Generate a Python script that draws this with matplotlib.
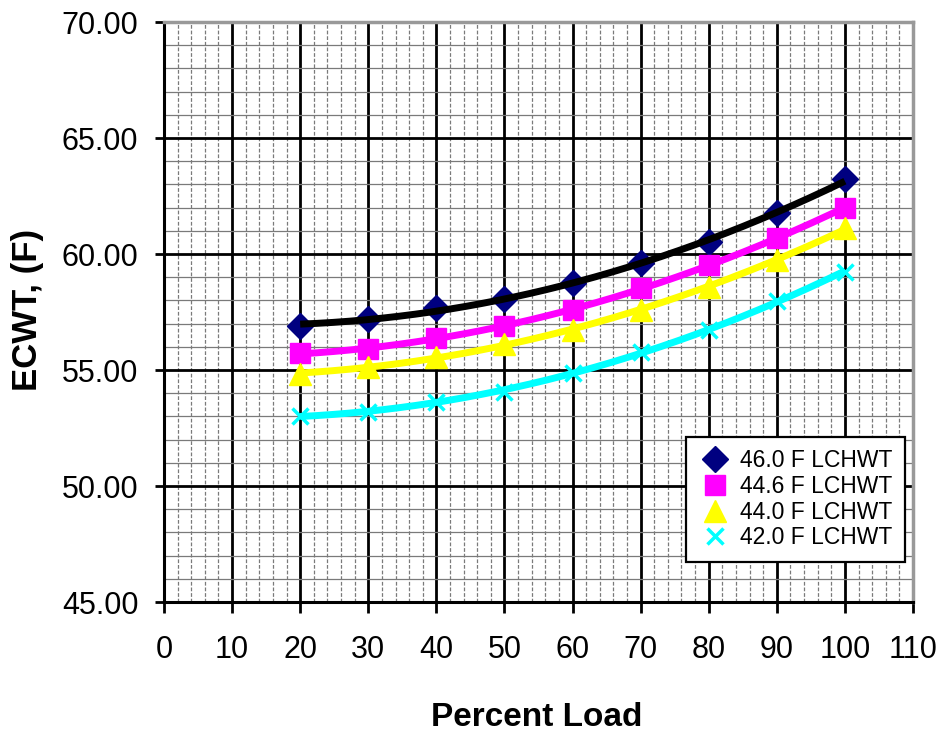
import numpy as np
import matplotlib
matplotlib.use("Agg")
import matplotlib.pyplot as plt
from matplotlib.ticker import MultipleLocator, FormatStrFormatter

plt.rcParams['font.family'] = ['Liberation Sans', 'DejaVu Sans']

load = [20, 30, 40, 50, 60, 70, 80, 90, 100]
ecwt_460 = [56.90, 57.20, 57.66, 58.05, 58.74, 59.60, 60.53, 61.75, 63.22]
ecwt_446 = [55.72, 55.90, 56.38, 56.90, 57.59, 58.52, 59.53, 60.67, 62.00]
ecwt_440 = [54.83, 55.12, 55.58, 56.12, 56.72, 57.59, 58.59, 59.74, 61.10]
ecwt_420 = [53.02, 53.20, 53.63, 54.07, 54.86, 55.79, 56.72, 57.97, 59.24]
labels = ["46.0 F LCHWT", "44.6 F LCHWT", "44.0 F LCHWT", "42.0 F LCHWT"]

x_ticks = list(range(0, 111, 10))
y_ticks = [45, 50, 55, 60, 65, 70]

fig = plt.figure(figsize=(9.39, 7.40), dpi=100)
ax = fig.add_axes([164/939, 1-602/740, (913-164)/939, (602-22)/740])

ax.set_xlim(0, 110)
ax.set_ylim(45, 70)
ax.xaxis.set_minor_locator(MultipleLocator(2))
ax.yaxis.set_minor_locator(MultipleLocator(1))
ax.yaxis.set_major_formatter(FormatStrFormatter('%.2f'))
ax.set_xticks(x_ticks)
ax.set_yticks(y_ticks)

ax.grid(which='minor', axis='y', color='#7a7a7a', linewidth=0.9, linestyle='-', zorder=0)
ax.grid(which='minor', axis='x', color='#7a7a7a', linewidth=0.9, linestyle=(0, (3, 1.5)), zorder=0)
ax.grid(which='major', color='black', linewidth=2.0, zorder=0.5)
ax.set_axisbelow(True)

ax.tick_params(which='minor', length=0)
ax.tick_params(which='major', axis='x', direction='out', length=8, width=2.0, labelsize=22, pad=16)
ax.tick_params(which='major', axis='y', direction='out', length=6.5, width=2.0, labelsize=22, pad=12)

for s in ['left', 'bottom']:
    ax.spines[s].set_color('black')
    ax.spines[s].set_linewidth(2.2)
for s in ['top', 'right']:
    ax.spines[s].set_color('#999999')
    ax.spines[s].set_linewidth(2.5)

series = [
    (ecwt_460, dict(marker='D', color='#000080', ms=13.5, ls='none'), 'black'),
    (ecwt_446, dict(marker='s', color='#ff00ff', ms=14, ls='none'), '#ff00ff'),
    (ecwt_440, dict(marker='^', color='#ffff00', ms=16, ls='none'), '#ffff00'),
    (ecwt_420, dict(marker='x', color='#00ffff', ms=11, mew=2.5, ls='none'), '#00ffff'),
]

xs = np.linspace(min(load), max(load), 200)
handles = []
for (vals, mk, lc), lab in zip(series, labels):
    h, = ax.plot(load, vals, label=lab, zorder=3, **mk)
    handles.append(h)
for (vals, mk, lc) in series:
    coef = np.polyfit(load, vals, 2)
    ax.plot(xs, np.polyval(coef, xs), color=lc, lw=5.0, zorder=4, solid_capstyle='butt')

leg = ax.legend(handles=handles, loc='lower right', bbox_to_anchor=(0.989, 0.069),
                fontsize=16.5, frameon=True, fancybox=False, framealpha=1,
                edgecolor='black', borderpad=0.55, labelspacing=0.12,
                handletextpad=0.4, handlelength=1.4, borderaxespad=0)
leg.get_frame().set_linewidth(1.6)
leg.set_zorder(10)

fig.text(537/939, 1-718/740, 'Percent Load', ha='center', va='center',
         fontsize=24, fontweight='bold')
fig.text(28/939, 1-310/740, 'ECWT, (F)', ha='center', va='center',
         fontsize=25, fontweight='bold', rotation=90)

fig.savefig('out.png', dpi=100)
